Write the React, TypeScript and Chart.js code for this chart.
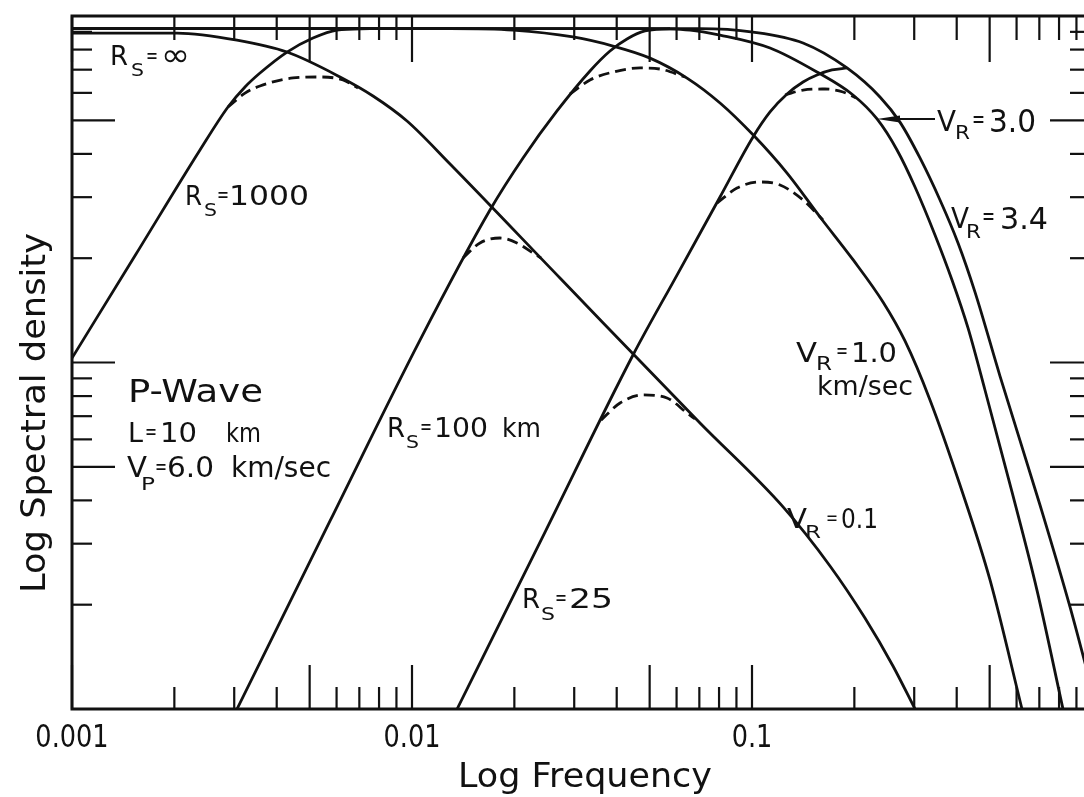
import React, { useEffect, useRef } from 'react';
import { Chart, registerables } from 'chart.js';

Chart.register(...registerables);

// ---- data (frequency, relative spectral density) ----
// V_R = 0.1 curve (its flat low-frequency part is labelled R_S = ∞)
const vr01Freq = [0.001, 0.002036, 0.003057, 0.00429, 0.006143, 0.007679, 0.009667, 0.01294, 0.02724, 0.07031, 0.1234, 0.1696, 0.2149, 0.2598, 0.3016];
const vr01Dens = [89.3, 89.3, 85.2, 78.7, 66.68, 58.76, 49.77, 37.4, 17.53, 6.69, 3.83, 2.587, 1.83, 1.331, 1.0];
// V_R = 1.0 km/sec
const vr10Freq = [0.001, 0.01294, 0.01982, 0.02975, 0.03901, 0.05012, 0.0644, 0.08053, 0.1007, 0.1268, 0.1585, 0.1982, 0.2428, 0.2818, 0.3338, 0.409, 0.5012, 0.6225];
const vr10Dens = [92, 92, 91.1, 87.0, 81.9, 75.6, 66.2, 56.1, 45.4, 35.2, 26.3, 19.8, 14.95, 11.54, 7.8, 4.43, 2.357, 1.0];
// V_R = 3.0
const vr30Freq = [0.001, 0.04684, 0.06571, 0.08053, 0.113, 0.1553, 0.1982, 0.2332, 0.267, 0.3016, 0.3453, 0.3875, 0.4318, 0.4844, 0.5817, 0.6891, 0.8217];
const vr30Dens = [92, 92, 91.1, 88.1, 80.84, 68.9, 59.16, 50.44, 41.05, 32.1, 23.34, 17.3, 12.58, 8.33, 4.23, 2.2, 1.0];
// V_R = 3.4
const vr34Freq = [0.001, 0.07031, 0.1007, 0.1413, 0.1903, 0.2379, 0.2724, 0.3119, 0.3572, 0.4036, 0.4528, 0.5363, 0.7031, 0.8616, 1.0345];
const vr34Dens = [92, 92, 89.9, 83.6, 70.8, 58.4, 49.4, 38.93, 29.44, 22.13, 15.97, 9.14, 3.88, 1.97, 1.0];
// R_S = 1000
const rs1000Freq = [0.001, 0.001543, 0.002379, 0.002876, 0.003227, 0.003572, 0.00429, 0.005114, 0.006018, 0.007524];
const rs1000Dens = [10.3, 20.56, 41.05, 54.63, 62.4, 68.46, 78.7, 86.4, 91.1, 92];
// R_S = 100 km
const rs100Freq = [0.003057, 0.00574, 0.010557, 0.01696, 0.02121, 0.0267, 0.03338, 0.03823, 0.04289, 0.04844, 0.0574];
const rs100Dens = [1.0, 3.49, 11.61, 27.55, 38.93, 53.2, 69.4, 79.25, 85.85, 90.53, 92];
// R_S = 25
const rs25Freq = [0.01357, 0.02462, 0.04467, 0.06018, 0.08053, 0.1007, 0.113, 0.1268, 0.1413, 0.1553, 0.1719, 0.1903];
const rs25Dens = [1.0, 3.24, 10.51, 17.88, 30.04, 44.76, 52.85, 59.55, 64.5, 67.57, 69.86, 70.8];
// dashed combined spectra near the corners
const d1Freq = [0.002876, 0.003227, 0.003572, 0.004467, 0.005363, 0.006268, 0.006936];
const d1Dens = [54.63, 59.9, 62.8, 66.24, 66.68, 65.37, 61.97];
const d2Freq = [0.01413, 0.01585, 0.01814, 0.02036, 0.02269, 0.02395];
const d2Dens = [20.03, 22.13, 22.87, 22.13, 20.7, 20.03];
const d3Freq = [0.02915, 0.03338, 0.03901, 0.04684, 0.05363, 0.06353];
const d3Dens = [59.55, 65.37, 68.9, 70.8, 70.3, 66.68];
const d4Freq = [0.03597, 0.04091, 0.0478, 0.05623, 0.0644, 0.06799];
const d4Dens = [6.82, 7.64, 8.06, 7.9, 7.15, 6.87];
const d5Freq = [0.07891, 0.09035, 0.1056, 0.1209, 0.1413, 0.1617];
const d5Dens = [28.86, 31.89, 33.19, 32.54, 29.44, 25.78];
const d6Freq = [0.1251, 0.1413, 0.1639, 0.1852, 0.2022];
const d6Dens = [59.16, 61.15, 61.56, 60.36, 58.0];

// ---- axes ----
const xMin = 0.001;
const xMax = 1;
const yMin = 1;
const yMax = 100;
const xDecades = [0.001, 0.01, 0.1];
const yDecades = [1, 10];
const mantissas = [1, 2, 3, 4, 5, 6, 7, 8, 9];
const majorMantissas = [1, 5];
const xTickValues = [0.001, 0.01, 0.1];
const xTickLabels = ['0.001', '0.01', '0.1'];
const xTitle = 'Log Frequency';
const yTitle = 'Log Spectral density';

const INK = '#111';
const FONT = '"DejaVu Sans", sans-serif';

type Note = { t: string; x: number; y: number; s: number; w: number };
const notes: Note[] = [
  // R_S = ∞
  { t: 'R', x: 110, y: 65, s: 26, w: 18 }, { t: 'S', x: 131, y: 76, s: 18, w: 13 }, { t: '=', x: 146, y: 63, s: 22, w: 12 }, { t: '∞', x: 161, y: 66, s: 32, w: 29 },
  // R_S = 1000
  { t: 'R', x: 185, y: 205, s: 26, w: 17 }, { t: 'S', x: 204, y: 216, s: 18, w: 13 }, { t: '=', x: 217, y: 202, s: 22, w: 12 }, { t: '1000', x: 229, y: 205, s: 27, w: 80 },
  // R_S = 100 km
  { t: 'R', x: 387, y: 437, s: 26, w: 18 }, { t: 'S', x: 406, y: 448, s: 18, w: 13 }, { t: '=', x: 420, y: 434, s: 22, w: 12 }, { t: '100', x: 434, y: 437, s: 27, w: 54 }, { t: 'km', x: 502, y: 437, s: 27, w: 39 },
  // R_S = 25
  { t: 'R', x: 522, y: 608, s: 26, w: 18 }, { t: 'S', x: 541, y: 620, s: 18, w: 14 }, { t: '=', x: 555, y: 605, s: 22, w: 12 }, { t: '25', x: 569, y: 608, s: 27, w: 44 },
  // P-Wave block
  { t: 'P-Wave', x: 128, y: 402, s: 32, w: 135 },
  { t: 'L', x: 128, y: 442, s: 27, w: 15 }, { t: '=', x: 145, y: 439, s: 22, w: 12 }, { t: '10', x: 160, y: 442, s: 27, w: 37 }, { t: 'km', x: 226, y: 442, s: 27, w: 35 },
  { t: 'V', x: 127, y: 477, s: 28, w: 20 }, { t: 'P', x: 141, y: 490, s: 18, w: 14 }, { t: '=', x: 155, y: 474, s: 22, w: 12 }, { t: '6.0', x: 167, y: 477, s: 28, w: 47 }, { t: 'km/sec', x: 231, y: 477, s: 28, w: 100 },
  // V_R = 3.0
  { t: 'V', x: 937, y: 131, s: 28, w: 19 }, { t: 'R', x: 955, y: 139, s: 19, w: 15 }, { t: '=', x: 972, y: 127, s: 24, w: 13 }, { t: '3.0', x: 989, y: 132, s: 32, w: 47 },
  // V_R = 3.4
  { t: 'V', x: 951, y: 228, s: 28, w: 18 }, { t: 'R', x: 966, y: 238, s: 19, w: 15 }, { t: '=', x: 982, y: 224, s: 24, w: 13 }, { t: '3.4', x: 1000, y: 229, s: 30, w: 48 },
  // V_R = 1.0 km/sec
  { t: 'V', x: 796, y: 362, s: 27, w: 21 }, { t: 'R', x: 816, y: 370, s: 19, w: 16 }, { t: '=', x: 836, y: 358, s: 22, w: 12 }, { t: '1.0', x: 851, y: 362, s: 27, w: 46 }, { t: 'km/sec', x: 817, y: 395, s: 26, w: 96 },
  // V_R = 0.1
  { t: 'V', x: 787, y: 528, s: 26, w: 20 }, { t: 'R', x: 805, y: 538, s: 18, w: 16 }, { t: '=', x: 826, y: 524, s: 20, w: 12 }, { t: '0.1', x: 841, y: 528, s: 26, w: 37 },
];

const pts = (f: number[], d: number[]) => f.map((x, i) => ({ x, y: d[i] }));

const solid = (label: string, f: number[], d: number[]) => ({
  label,
  data: pts(f, d),
  borderColor: INK,
  borderWidth: 2.8,
  pointRadius: 0,
  fill: false,
  cubicInterpolationMode: 'monotone' as const,
});
const dashed = (label: string, f: number[], d: number[]) => ({
  ...solid(label, f, d),
  borderDash: [11, 6],
});

function drawPart(ctx: CanvasRenderingContext2D, t: string, x: number, y: number, s: number, w: number) {
  ctx.font = `${s}px ${FONT}`;
  const nat = ctx.measureText(t).width;
  const sx = w ? w / nat : 1;
  ctx.save();
  ctx.translate(x, y);
  ctx.scale(sx, 1);
  ctx.fillText(t, 0, 0);
  ctx.restore();
}

const framePlugin = {
  id: 'frameTicksText',
  afterDatasetsDraw(chart: any) {
    const { ctx, chartArea: a, scales } = chart;
    const xs = scales.x;
    const ys = scales.y;
    ctx.save();
    ctx.strokeStyle = INK;
    ctx.fillStyle = INK;
    ctx.lineCap = 'butt';

    // frame
    ctx.lineWidth = 3;
    ctx.beginPath();
    ctx.moveTo(a.left, a.top);
    ctx.lineTo(a.right, a.top);
    ctx.lineTo(a.right, a.bottom);
    ctx.lineTo(a.left, a.bottom);
    ctx.closePath();
    ctx.stroke();

    // ticks
    ctx.lineWidth = 2.2;
    const seg = (x1: number, y1: number, x2: number, y2: number) => {
      ctx.beginPath();
      ctx.moveTo(x1, y1);
      ctx.lineTo(x2, y2);
      ctx.stroke();
    };
    const xt: { v: number; major: boolean }[] = [];
    for (const d of xDecades) for (const m of mantissas) xt.push({ v: d * m, major: majorMantissas.includes(m) });
    xt.push({ v: xMax, major: true });
    for (const t of xt) {
      const px = xs.getPixelForValue(t.v);
      seg(px, a.bottom, px, a.bottom - (t.major ? 44 : 22));
      seg(px, a.top, px, a.top + (t.major ? 46 : 24));
    }
    const yt: { v: number; major: boolean }[] = [];
    for (const d of yDecades) for (const m of mantissas) yt.push({ v: d * m, major: majorMantissas.includes(m) });
    yt.push({ v: yMax, major: true });
    for (const t of yt) {
      const py = ys.getPixelForValue(t.v);
      seg(a.left, py, a.left + (t.major ? 43 : 20), py);
      seg(a.right, py, a.right - (t.major ? 42 : 22), py);
    }

    // leader arrow for V_R = 3.0
    ctx.lineWidth = 2;
    seg(895, 119, 935, 119);
    ctx.beginPath();
    ctx.moveTo(877, 119);
    ctx.lineTo(900, 115.5);
    ctx.lineTo(900, 122.5);
    ctx.closePath();
    ctx.fill();

    // annotations
    ctx.textAlign = 'left';
    ctx.textBaseline = 'alphabetic';
    for (const n of notes) drawPart(ctx, n.t, n.x, n.y, n.s, n.w);

    // x tick labels
    xTickValues.forEach((v, i) => {
      ctx.font = `32px ${FONT}`;
      const nat = ctx.measureText(xTickLabels[i]).width;
      const w = nat * 0.8;
      drawPart(ctx, xTickLabels[i], xs.getPixelForValue(v) - w / 2, 747, 32, w);
    });

    // axis titles
    drawPart(ctx, xTitle, 585 - 127, 787, 34, 254);
    ctx.save();
    ctx.translate(45, 413);
    ctx.rotate(-Math.PI / 2);
    drawPart(ctx, yTitle, -180, 0, 34, 360);
    ctx.restore();

    ctx.restore();
  },
};

export default function App() {
  const ref = useRef<HTMLCanvasElement>(null);
  useEffect(() => {
    const chart = new Chart(ref.current as HTMLCanvasElement, {
      type: 'line',
      data: {
        datasets: [
          solid('V_R=0.1 (R_S=∞)', vr01Freq, vr01Dens),
          solid('V_R=1.0', vr10Freq, vr10Dens),
          solid('V_R=3.0', vr30Freq, vr30Dens),
          solid('V_R=3.4', vr34Freq, vr34Dens),
          solid('R_S=1000', rs1000Freq, rs1000Dens),
          solid('R_S=100', rs100Freq, rs100Dens),
          solid('R_S=25', rs25Freq, rs25Dens),
          dashed('1000 x 0.1', d1Freq, d1Dens),
          dashed('100 x 0.1', d2Freq, d2Dens),
          dashed('100 x 1.0', d3Freq, d3Dens),
          dashed('25 x 0.1', d4Freq, d4Dens),
          dashed('25 x 1.0', d5Freq, d5Dens),
          dashed('25 x 3.0', d6Freq, d6Dens),
        ] as any,
      },
      options: {
        responsive: false,
        animation: false,
        devicePixelRatio: 1,
        events: [],
        layout: { padding: { left: 72, top: 16, right: 8, bottom: 88 } },
        scales: {
          x: { type: 'logarithmic', min: xMin, max: xMax, display: false },
          y: { type: 'logarithmic', min: yMin, max: yMax, display: false },
        },
        plugins: { legend: { display: false }, tooltip: { enabled: false } },
      },
      plugins: [framePlugin],
    });
    return () => chart.destroy();
  }, []);
  return (
    <div style={{ position: 'absolute', left: 0, top: 0, width: 1084, height: 797, overflow: 'hidden', background: '#fff' }}>
      <canvas ref={ref} width={1100} height={797} style={{ display: 'block' }} />
    </div>
  );
}
